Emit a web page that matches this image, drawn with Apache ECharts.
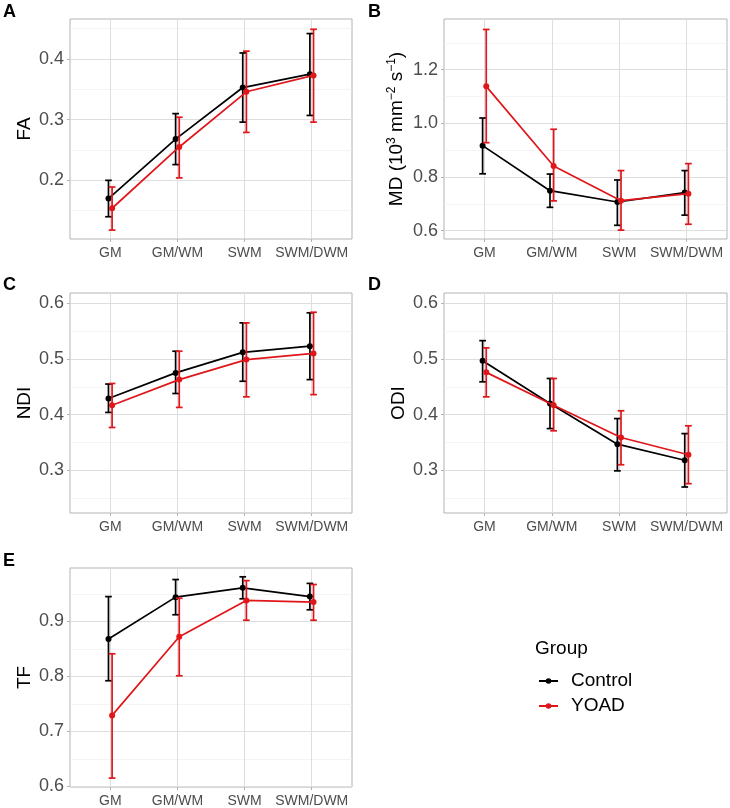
<!DOCTYPE html>
<html><head><meta charset="utf-8">
<script src="https://cdn.jsdelivr.net/npm/echarts@6/dist/echarts.min.js"></script>
<style>html,body{margin:0;padding:0;background:#fff}#c{width:730px;height:808px}</style>
</head><body><div id="c"></div>
<script>
// ---------- data ----------
const categories = ['GM', 'GM/WM', 'SWM', 'SWM/DWM'];
const groupNames = ['Control', 'YOAD'];
// each entry: [mean, lower, upper]
const faControl  = [[0.170, 0.140, 0.200], [0.268, 0.226, 0.310], [0.353, 0.296, 0.410], [0.375, 0.307, 0.442]];
const faYoad     = [[0.154, 0.118, 0.189], [0.255, 0.204, 0.304], [0.346, 0.279, 0.413], [0.373, 0.296, 0.449]];
const mdControl  = [[0.917, 0.812, 1.020], [0.749, 0.687, 0.811], [0.707, 0.620, 0.789], [0.742, 0.658, 0.824]];
const mdYoad     = [[1.138, 0.928, 1.350], [0.841, 0.711, 0.978], [0.712, 0.602, 0.824], [0.738, 0.624, 0.850]];
const ndiControl = [[0.429, 0.404, 0.455], [0.475, 0.438, 0.514], [0.512, 0.460, 0.565], [0.523, 0.463, 0.583]];
const ndiYoad    = [[0.417, 0.377, 0.456], [0.463, 0.413, 0.514], [0.499, 0.432, 0.565], [0.510, 0.436, 0.584]];
const odiControl = [[0.497, 0.459, 0.533], [0.420, 0.375, 0.465], [0.347, 0.299, 0.393], [0.318, 0.270, 0.366]];
const odiYoad    = [[0.476, 0.432, 0.520], [0.417, 0.371, 0.465], [0.359, 0.310, 0.407], [0.328, 0.276, 0.380]];
const tfControl  = [[0.868, 0.792, 0.945], [0.944, 0.912, 0.976], [0.961, 0.941, 0.981], [0.945, 0.921, 0.969]];
const tfYoad     = [[0.729, 0.615, 0.841], [0.872, 0.801, 0.942], [0.938, 0.902, 0.974], [0.935, 0.902, 0.967]];
// tick labels
const faTicks  = [0.2, 0.3, 0.4];            const faMinor  = [0.15, 0.25, 0.35, 0.45];
const mdTicks  = [0.6, 0.8, 1.0, 1.2];       const mdMinor  = [0.7, 0.9, 1.1, 1.3];
const ndiTicks = [0.3, 0.4, 0.5, 0.6];       const ndiMinor = [0.25, 0.35, 0.45, 0.55];
const odiTicks = [0.3, 0.4, 0.5, 0.6];       const odiMinor = [0.25, 0.35, 0.45, 0.55];
const tfTicks  = [0.6, 0.7, 0.8, 0.9];       const tfMinor  = [0.65, 0.75, 0.85, 0.95];

// ---------- layout / style ----------
const FONT = 'Liberation Sans, Arial, Helvetica, sans-serif';
const COLORS = ['#000000', '#e0161b'];
const DODGE = 0.027;
const panels = [
  {letter: 'A', name: 'FA',  ctl: faControl,  yoad: faYoad,  ticks: faTicks,  minor: faMinor,  min: 0.1033, max: 0.466, grid: {left: 70,  top: 19,  width: 282, height: 220}, lx: 3,   ly: 3},
  {letter: 'B', name: 'MD ({n|10}{sup|3}{n| mm}{sup|\u22122}{n| s}{sup|\u22121}{n|)}', ctl: mdControl, yoad: mdYoad, ticks: mdTicks, minor: mdMinor, min: 0.569, max: 1.389, grid: {left: 444, top: 19, width: 283, height: 220}, lx: 368, ly: 3},
  {letter: 'C', name: 'NDI', ctl: ndiControl, yoad: ndiYoad, ticks: ndiTicks, minor: ndiMinor, min: 0.2233, max: 0.6186, grid: {left: 70,  top: 293, width: 282, height: 220}, lx: 3,   ly: 276},
  {letter: 'D', name: 'ODI', ctl: odiControl, yoad: odiYoad, ticks: odiTicks, minor: odiMinor, min: 0.2233, max: 0.6186, grid: {left: 444, top: 293, width: 283, height: 220}, lx: 368, ly: 276},
  {letter: 'E', name: 'TF',  ctl: tfControl,  yoad: tfYoad,  ticks: tfTicks,  minor: tfMinor,  min: 0.5988, max: 0.997, grid: {left: 70,  top: 568, width: 282, height: 219}, lx: 3,   ly: 552}
];

const grids = [], xAxes = [], yAxes = [], series = [], titles = [];

function errRender(color) {
  return function (params, api) {
    const x = api.value(0), lo = api.value(1), hi = api.value(2);
    const p1 = api.coord([x, lo]), p2 = api.coord([x, hi]);
    const hw = api.size([0.1, 0])[0] / 2;
    const st = {stroke: color, lineWidth: 1.7};
    return {type: 'group', children: [
      {type: 'line', shape: {x1: p1[0], y1: p1[1], x2: p2[0], y2: p2[1]}, style: st},
      {type: 'line', shape: {x1: p1[0] - hw, y1: p1[1], x2: p1[0] + hw, y2: p1[1]}, style: st},
      {type: 'line', shape: {x1: p2[0] - hw, y1: p2[1], x2: p2[0] + hw, y2: p2[1]}, style: st}
    ]};
  };
}

panels.forEach((p, i) => {
  grids.push(Object.assign({show: true, borderColor: '#b3b3b3', borderWidth: 1, backgroundColor: 'transparent', containLabel: false, outerBoundsMode: 'none'}, p.grid));
  titles.push({text: p.letter, left: p.lx, top: p.ly, padding: 0, textStyle: {fontSize: 18, fontWeight: 'bold', color: '#000', fontFamily: FONT}});
  xAxes.push({
    type: 'value', gridIndex: i, min: 0.4, max: 4.6,
    axisLine: {show: false},
    axisTick: {show: true, length: 3, customValues: [1, 2, 3, 4], lineStyle: {color: '#b3b3b3'}},
    axisLabel: {customValues: [1, 2, 3, 4], formatter: v => categories[Math.round(v) - 1] || '', fontSize: 14, color: '#4d4d4d', margin: 7, fontFamily: FONT},
    splitLine: {show: true, lineStyle: {color: '#dedede', width: 1}}
  });
  yAxes.push({
    type: 'value', gridIndex: i, min: p.min, max: p.max,
    name: p.name, nameLocation: 'middle', nameRotate: 90, nameGap: 36,
    nameTextStyle: {fontSize: 19, color: '#000', fontFamily: FONT,
      rich: {n: {fontSize: 19, color: '#000', fontFamily: FONT, lineHeight: 22},
             sup: {fontSize: 12, color: '#000', fontFamily: FONT, verticalAlign: 'top', lineHeight: 12}}},
    axisLine: {show: false},
    axisTick: {show: true, length: 3, customValues: p.ticks, lineStyle: {color: '#b3b3b3'}},
    axisLabel: {customValues: p.ticks, formatter: v => v.toFixed(1), fontSize: 18, color: '#4d4d4d', margin: 6, fontFamily: FONT},
    splitLine: {show: true, lineStyle: {color: '#dedede', width: 1}}
  });
  yAxes.push({
    type: 'value', gridIndex: i, min: p.min, max: p.max,
    axisLine: {show: false},
    axisTick: {show: false, customValues: p.minor},
    axisLabel: {show: false},
    splitLine: {show: true, lineStyle: {color: '#ececec', width: 0.6}}
  });
  [p.ctl, p.yoad].forEach((arr, g) => {
    const off = g === 0 ? -DODGE : DODGE;
    series.push({
      type: 'line', name: groupNames[g], xAxisIndex: i, yAxisIndex: 2 * i,
      data: arr.map((d, j) => [j + 1 + off, d[0]]),
      color: COLORS[g], symbol: 'circle', symbolSize: 6, showSymbol: true,
      lineStyle: {width: 1.7, color: COLORS[g]}, itemStyle: {color: COLORS[g]},
      z: 3 + g, silent: true
    });
    series.push({
      type: 'custom', name: groupNames[g] + ' error', xAxisIndex: i, yAxisIndex: 2 * i,
      data: arr.map((d, j) => [j + 1 + off, d[1], d[2]]),
      encode: {x: 0, y: [1, 2]},
      renderItem: errRender(COLORS[g]), z: 3 + g, silent: true
    });
  });
});

titles.push({text: 'Group', left: 535, top: 639, padding: 0, textStyle: {fontSize: 19, fontWeight: 'normal', color: '#000', fontFamily: FONT}});

const chart = echarts.init(document.getElementById('c'), null, {renderer: 'canvas'});
chart.setOption({
  animation: false,
  backgroundColor: '#fff',
  title: titles,
  grid: grids,
  xAxis: xAxes,
  yAxis: yAxes,
  legend: {
    data: groupNames, orient: 'vertical', left: 538, top: 671, padding: 0,
    itemWidth: 19, itemHeight: 7, itemGap: 5, selectedMode: false,
    textStyle: {fontSize: 19, color: '#000', fontFamily: FONT, lineHeight: 20, padding: [0, 0, 0, 8]}
  },
  series: series
});
</script></body></html>
